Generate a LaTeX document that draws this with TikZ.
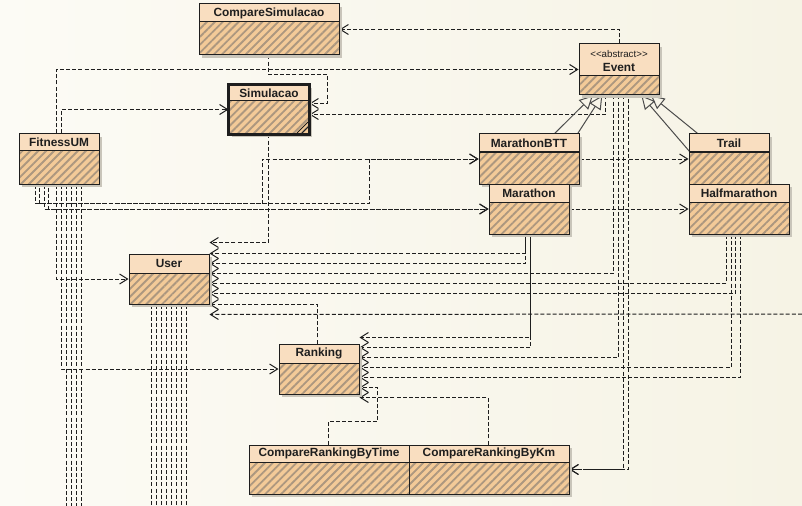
\documentclass[tikz,border=0pt]{standalone}
\usepackage{fontspec}
\setmainfont{Liberation Sans}
\usetikzlibrary{arrows.meta,patterns.meta,fit,calc}
\definecolor{bgA}{HTML}{FCFBF5}
\definecolor{bgB}{HTML}{F6F3E5}
\definecolor{headc}{HTML}{F9DEC0}
\definecolor{bodyc}{HTML}{F3CA98}
\definecolor{stripec}{HTML}{AC977F}
\definecolor{shadc}{HTML}{C9C5BA}
\definecolor{linec}{HTML}{1E1E1E}
\pgfdeclarelayer{bgl}
\pgfdeclarelayer{conl}
\pgfsetlayers{bgl,conl,main}
\tikzset{
  uses/.style={draw=linec, line width=0.75pt, dash pattern=on 3pt off 1.6pt, -{Straight Barb[length=6pt,width=7.5pt]}},
  plainuse/.style={draw=linec, line width=0.75pt, dash pattern=on 3pt off 1.6pt},
  inherit/.style={draw=linec!80, line width=0.75pt, -{Triangle[open,length=10pt,width=10pt]}},
  boxframe/.style={draw=linec, line width=0.75pt, inner sep=0pt},
  classlabel/.style={font=\fontsize{8.9}{10}\selectfont\bfseries, text=linec, inner sep=0pt},
  stereo/.style={font=\fontsize{7.3}{8}\selectfont, text=linec, inner sep=0pt},
}
\newcommand\umlbox[7]{%
  \fill[shadc] (#2+3,#3+3) rectangle (#4+3,#5+3);
  \fill[headc] (#2,#3) rectangle (#4,#6);
  \fill[bodyc] (#2,#6) rectangle (#4,#5);
  \fill[pattern={Lines[angle=45,distance=4.2pt,line width=1.4pt]},pattern color=stripec] (#2,#6) rectangle (#4,#5);
  \draw[linec,line width=0.75pt] (#2,#6) -- (#4,#6);
  \node[boxframe, fit={(#2,#3) (#4,#5)}] (#1) {};
  \node[classlabel] (#1-name) at ({(#2+#4)/2},{(#3+#6)/2}) {#7};
}
\begin{document}
\begin{tikzpicture}[x=0.75pt,y=-0.75pt]
\useasboundingbox (0,0) rectangle (802,506);
\begin{pgfonlayer}{bgl}
  \fill[left color=bgA, right color=bgB] (0,0) rectangle (802,506);
\end{pgfonlayer}
\coordinate (offr) at (802,314);

% classes
\umlbox{cs}{199}{4}{339}{55}{22}{CompareSimulacao}
\umlbox{ev}{579}{44}{659}{95}{76}{}
\node[stereo] (ev-st) at (619,54) {<\kern0pt<abstract>\kern0pt>};
\node[classlabel] (ev-label) at (619,67) {Event};
\umlbox{sim}{229}{85}{309}{134}{101}{Simulacao}
\draw[linec,line width=1.6pt] (sim.north west) rectangle (sim.south east);
\draw[linec,line width=0.6pt] (297,133) -- (308,122) (302,133) -- (308,127);
\umlbox{fit}{19}{134}{99}{184}{151}{FitnessUM}
\umlbox{mbtt}{479}{134}{579}{184}{152}{MarathonBTT}
\umlbox{mar}{489}{184}{569}{234}{202}{Marathon}
\umlbox{tr}{689}{134}{769}{184}{152}{Trail}
\umlbox{hm}{689}{184}{789}{234}{202}{Halfmarathon}
\umlbox{usr}{129}{254}{209}{304}{273}{User}
\umlbox{rk}{279}{344}{359}{394}{363}{Ranking}
\umlbox{crt}{249}{445}{409}{494}{462}{CompareRankingByTime}
\umlbox{crk}{409}{445}{569}{494}{462}{CompareRankingByKm}

\begin{pgfonlayer}{conl}
% Event -> CompareSimulacao
\draw[uses] (ev.north) |- (cs.east);
% CompareSimulacao -> Simulacao
\draw[uses] ($(cs.south west)+(70,0)$) -- ++(0,19) -- ++(59,0) |- ($(sim.north east)+(0,19)$);
% FitnessUM -> Event, Simulacao
\draw[uses] ($(fit.north west)+(38,0)$) |- (ev.west);
\draw[uses] ($(fit.north west)+(43,0)$) |- (sim.west);
% Event -> Simulacao
\draw[uses] ($(ev.south west)+(27,0)$) |- ($(sim.north east)+(0,30)$);
% FitnessUM -> MarathonBTT (x2)
\draw[uses] ($(fit.south west)+(17,0)$) -- ++(0,19) -- ++(227,0) |- (mbtt.west);
\draw[uses,dash phase=2.3pt] ($(fit.south west)+(21,0)$) -- ++(0,19) -- ++(330,0) |- (mbtt.west);
% FitnessUM -> Marathon (x2)
\draw[uses] ($(fit.south west)+(26,0)$) |- (mar.west);
\draw[uses,dash phase=2.3pt] ($(fit.south west)+(30,0)$) |- (mar.west);
% FitnessUM -> User, Ranking
\draw[uses] ($(fit.south west)+(38,0)$) |- (usr.west);
\draw[uses] ($(fit.south west)+(43,0)$) |- (rk.west);
% FitnessUM -> classes below
\foreach \dx in {48,53,58,63} \draw[plainuse] ($(fit.south west)+(\dx,0)$) -- ++(0,322);
% User -> classes below
\foreach \dx in {23,28,...,58} \draw[plainuse] ($(usr.south west)+(\dx,0)$) -- ++(0,202);
% -> User
\draw[uses] ($(sim.south west)+(40,0)$) |- ($(usr.north east)+(0,-11)$);
\draw[uses] ($(mar.south west)+(37,0)$) |- (usr.north east);
\draw[uses,dash phase=2.3pt] ($(mar.south west)+(37,0)$) |- ($(usr.north east)+(0,10)$);
\draw[uses] ($(ev.south west)+(35,0)$) |- ($(usr.north east)+(0,20)$);
\draw[uses] ($(hm.south west)+(38,0)$) |- ($(usr.north east)+(0,30)$);
\draw[uses] ($(hm.south west)+(47,0)$) |- ($(usr.north east)+(0,40)$);
\draw[uses] ($(rk.north west)+(39,0)$) |- (usr.south east);
\draw[uses] (offr) -- ($(usr.south east)+(0,10)$);
% -> Ranking
\draw[uses] ($(mar.south west)+(42,0)$) |- ($(rk.north east)+(0,-6)$);
\draw[uses,dash phase=2.3pt] ($(mar.south west)+(42,0)$) |- ($(rk.north east)+(0,4)$);
\draw[uses] ($(ev.south west)+(40,0)$) |- ($(rk.north east)+(0,14)$);
\draw[uses] ($(hm.south west)+(43,0)$) |- ($(rk.north east)+(0,24)$);
\draw[uses] ($(hm.south west)+(52,0)$) |- ($(rk.north east)+(0,34)$);
\draw[uses] ($(crt.north west)+(80,0)$) -- ++(0,-23) -- ++(49,0) |- ($(rk.north east)+(0,44)$);
\draw[uses] ($(crk.north west)+(80,0)$) |- ($(rk.north east)+(0,54)$);
% Event -> CompareRankingByKm (x2)
\draw[uses] ($(ev.south west)+(45,0)$) |- (crk.east);
\draw[uses,dash phase=2.3pt] ($(ev.south west)+(50,0)$) |- (crk.east);
% MarathonBTT -> Trail, Marathon -> Halfmarathon
\draw[uses] (mbtt.east) -- (tr.west);
\draw[uses] (mar.east) -- (hm.west);
% inheritance
\draw[inherit] (mbtt) -- (ev);
\draw[inherit] (mar) -- (ev);
\draw[inherit] (tr) -- (ev);
\draw[inherit] (hm) -- (ev);
\end{pgfonlayer}
\end{tikzpicture}
\end{document}
